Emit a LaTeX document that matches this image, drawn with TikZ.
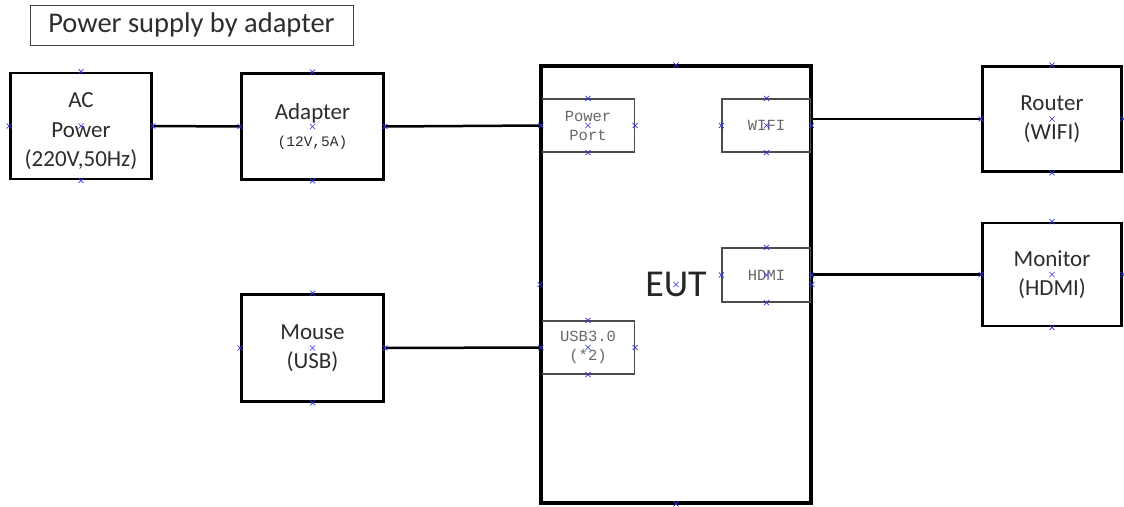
\documentclass[tikz,border=0pt]{standalone}
\usepackage{fontspec}
\setmainfont{Carlito}
\newfontfamily\monof{Liberation Mono}
\usetikzlibrary{shapes.misc,calc}
\definecolor{mk}{RGB}{50,50,235}
\definecolor{txt}{RGB}{45,45,45}
\definecolor{port}{RGB}{105,105,105}
\tikzset{
  dev/.style={draw=black, line width=2.7pt, fill=white, inner sep=0pt, align=center,
    text=txt, font=\fontsize{23}{29.5}\selectfont},
  devtext/.style={inner sep=0pt, align=center, text=txt, font=\fontsize{23}{29.5}\selectfont},
  portbox/.style={draw=black!70, line width=1.2pt, inner sep=0pt, align=center,
    text=port, font=\monof\fontsize{15.5}{19}\selectfont},
  wire/.style={draw=black, line width=2.5pt},
  xmk/.style={cross out, draw=mk, line width=0.6pt, minimum size=4.5pt, inner sep=0pt},
}
\begin{document}
\begin{tikzpicture}[x=1pt,y=-1pt]
\useasboundingbox (0,0) rectangle (1124,506);
% title
\node[draw=black!75, line width=1pt, minimum width=323pt, minimum height=40pt, inner sep=0pt,
  text=txt, font=\fontsize{28.5}{32}\selectfont] (title) at (191.5,25) {\raisebox{-1.5pt}{Power supply by adapter}};
% devices
\node[dev, minimum width=141pt, minimum height=106pt] (ac) at (81,126) {};
\node[devtext] (actext) at ([yshift=-5.5pt]ac.center) {AC\\Power\\(220V,50Hz)};
\node[dev, minimum width=142pt, minimum height=106pt] (adapter) at (312.5,126.5)
  {Adapter\\[-2pt]{\monof\fontsize{14.5}{16}\selectfont (12V,5A)}};
\node[dev, minimum width=142pt, minimum height=107pt] (mouse) at (312.5,348) {Mouse\\(USB)};
\node[dev, minimum width=269pt, minimum height=436pt, font=\fontsize{38}{40}\selectfont, text=black!85]
  (eut) at (676,284.5) {EUT};
\node[dev, minimum width=139pt, minimum height=105pt] (router) at (1052,119) {Router\\(WIFI)};
\node[dev, minimum width=139pt, minimum height=103pt] (monitor) at (1052,274.5) {Monitor\\(HDMI)};
% ports inside EUT
\node[portbox, minimum width=93pt, minimum height=53pt] (pport) at (588,125.5) {Power\\Port};
\node[portbox, minimum width=89pt, minimum height=53pt] (wifi) at (766.5,125.5) {WIFI};
\node[portbox, minimum width=89pt, minimum height=54pt] (hdmi) at (766.5,275) {HDMI};
\node[portbox, minimum width=93pt, minimum height=53pt] (usb) at (588,347.5) {USB3.0\\(*2)};
% redraw EUT border over ports
\draw[line width=2.7pt] (eut.north west) rectangle (eut.south east);
% connectors
\draw[wire] (ac.east) -- (adapter.west);
\draw[wire] (adapter.east) -- (pport.west);
\draw[wire] (mouse.east) -- (usb.west);
\draw[wire] (router.west) -- (router.west -| wifi.east);
\draw[wire] (monitor.west) -- (monitor.west -| hdmi.east);
% connection point marks
\foreach \n in {ac,adapter,mouse,eut,router,monitor,pport,wifi,hdmi,usb}
  \foreach \a in {north,south,east,west,center}
    \node[xmk] at (\n.\a) {};
\end{tikzpicture}
\end{document}
